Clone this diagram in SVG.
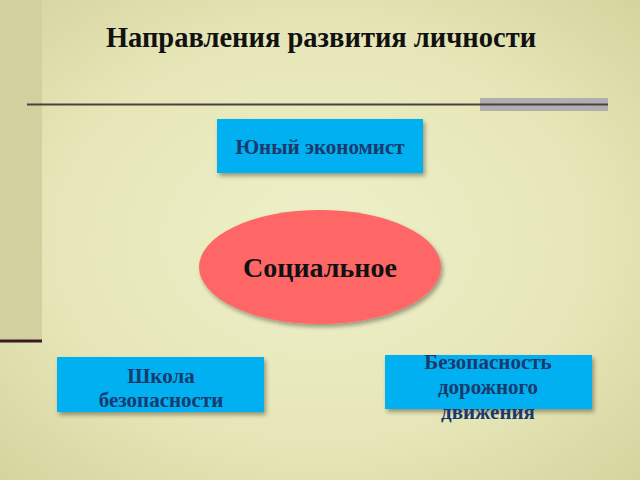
<svg xmlns="http://www.w3.org/2000/svg" width="640" height="480" viewBox="0 0 640 480">
<defs>
<radialGradient id="bg" cx="0.5" cy="0.5" r="0.7">
<stop offset="0" stop-color="#eef0c8"/>
<stop offset="0.6" stop-color="#e6e6b8"/>
<stop offset="1" stop-color="#d6d49e"/>
</radialGradient>
<filter id="sh" x="-10%" y="-10%" width="125%" height="130%">
<feDropShadow dx="2" dy="3" stdDeviation="2" flood-color="#000" flood-opacity="0.35"/>
</filter>
<style>
.box{fill:#00b0f0;filter:url(#sh)}
.lbl{font-family:"Liberation Serif","DejaVu Serif",serif;font-weight:bold;fill:#1a3a6e;font-size:21px;text-anchor:middle}
</style>
</defs>
<rect width="640" height="480" fill="url(#bg)"/>
<rect x="0" y="0" width="42" height="341" fill="#d2d09e"/>
<line x1="0" y1="341" x2="42" y2="341" stroke="#3a1a2a" stroke-width="3"/>
<rect x="480" y="98" width="128" height="13" fill="#b0aeb0"/>
<line x1="27" y1="104.5" x2="608" y2="104.5" stroke="#4a4040" stroke-width="2"/>
<text x="321" y="47" font-family="Liberation Serif,DejaVu Serif,serif" font-weight="bold" font-size="28.5" fill="#111" text-anchor="middle">Направления развития личности</text>
<g id="connectors"/>
<g id="n1">
<rect class="box" x="217" y="119" width="206" height="54"/>
<text class="lbl" x="320" y="154">Юный экономист</text>
</g>
<g id="n0">
<ellipse cx="320" cy="267" rx="121" ry="57" fill="#ff6666" filter="url(#sh)"/>
<text x="320" y="277" font-family="Liberation Serif,DejaVu Serif,serif" font-weight="bold" font-size="28" fill="#111" text-anchor="middle">Социальное</text>
</g>
<g id="n2">
<rect class="box" x="57" y="357" width="207" height="55"/>
<text class="lbl" x="161" y="383">Школа</text>
<text class="lbl" x="161" y="407">безопасности</text>
</g>
<g id="n3">
<rect class="box" x="385" y="355" width="207" height="54"/>
<text class="lbl" x="488" y="369">Безопасность</text>
<text class="lbl" x="488" y="394">дорожного</text>
<text class="lbl" x="488" y="419" fill="#2a2a3a">движения</text>
</g>
</svg>
